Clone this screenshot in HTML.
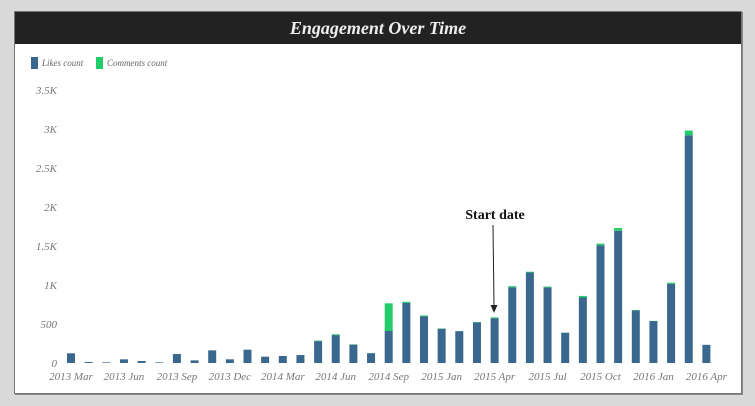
<!DOCTYPE html>
<html><head><meta charset="utf-8"><style>
body{margin:0;background:#d9d9d9;width:755px;height:406px;overflow:hidden;font-family:"Liberation Serif",serif}
#card{position:absolute;left:14px;top:11px;width:726px;height:381px;background:#fff;border:1px solid #777;box-shadow:1px 1px 0 #888}
#title{position:absolute;left:0;top:0;width:726px;height:32px;background:#222;color:#eee;font:italic bold 18px "Liberation Serif",serif;text-align:center;line-height:32px}
svg{position:absolute;left:0;top:0}
</style></head><body>
<div id="card">
<div id="title">Engagement Over Time</div>
</div>
<svg id="chart" width="755" height="406"></svg>
<script>
const categories=["2013 Mar","2013 Apr","2013 May","2013 Jun","2013 Jul","2013 Aug","2013 Sep","2013 Oct","2013 Nov","2013 Dec","2014 Jan","2014 Feb","2014 Mar","2014 Apr","2014 May","2014 Jun","2014 Jul","2014 Aug","2014 Sep","2014 Oct","2014 Nov","2015 Jan","2015 Feb","2015 Mar","2015 Apr","2015 May","2015 Jun","2015 Jul","2015 Aug","2015 Sep","2015 Oct","2015 Nov","2015 Dec","2016 Jan","2016 Feb","2016 Mar","2016 Apr"];
const likes=[124,13,8,47,26,8,115,34,162,47,171,81,90,102,281,358,236,126,410,770,600,440,408,520,575,970,1160,970,388,840,1510,1695,675,538,1015,2920,233];
const comments=[0,0,0,0,0,0,0,0,0,0,0,0,0,0,6,10,3,2,355,15,10,3,2,5,10,15,10,10,2,20,20,35,5,2,15,60,0];
const yTicks=[0,500,1000,1500,2000,2500,3000,3500];
const yTickLabels=["0","500","1K","1.5K","2K","2.5K","3K","3.5K"];
const xLabelIdx=[0,3,6,9,12,15,18,21,24,27,30,33,36];
const svg=document.getElementById('chart');const NS='http://www.w3.org/2000/svg';
const y=v=>363-v*0.078;const x=i=>71+i*17.65;
function mk(t,a,txt){const e=document.createElementNS(NS,t);for(const k in a)e.setAttribute(k,a[k]);if(txt!==undefined)e.textContent=txt;svg.appendChild(e);return e;}
const tf='font-family:"Liberation Serif",serif;font-style:italic;font-size:11px;fill:#777';
yTicks.forEach((v,i)=>{const t=mk('text',{x:57,y:y(v)+4,'text-anchor':'end',style:tf},yTickLabels[i]);

});
categories.forEach((c,i)=>{
const b=mk('rect',{x:x(i)-4,y:y(likes[i]),width:8,height:likes[i]*0.078,fill:'#3a678e'});


if(comments[i]>0){const g=mk('rect',{x:x(i)-4,y:y(likes[i]+comments[i]),width:8,height:comments[i]*0.078,fill:'#22cc6a'});

}
});
xLabelIdx.forEach(i=>{const t=mk('text',{x:x(i),y:380,'text-anchor':'middle',style:tf},categories[i]);

});
// legend
let r=mk('rect',{x:31,y:57,width:7,height:12,fill:'#3a678e'});
let t=mk('text',{x:42,y:66,style:'font-family:"Liberation Serif",serif;font-style:italic;font-size:9px;fill:#666'},'Likes count');
r=mk('rect',{x:96,y:57,width:7,height:12,fill:'#22cc6a'});
t=mk('text',{x:107,y:66,style:'font-family:"Liberation Serif",serif;font-style:italic;font-size:9px;fill:#666'},'Comments count');
// annotation
t=mk('text',{x:495,y:219,'text-anchor':'middle',style:'font-family:"Liberation Serif",serif;font-weight:bold;font-size:14px;fill:#111'},'Start date');
let l=mk('line',{x1:493,y1:225,x2:494,y2:306,stroke:'#222','stroke-width':1});
let p=mk('polygon',{points:'490.5,305 497.5,305 494,313',fill:'#222'});
</script>
</body></html>
